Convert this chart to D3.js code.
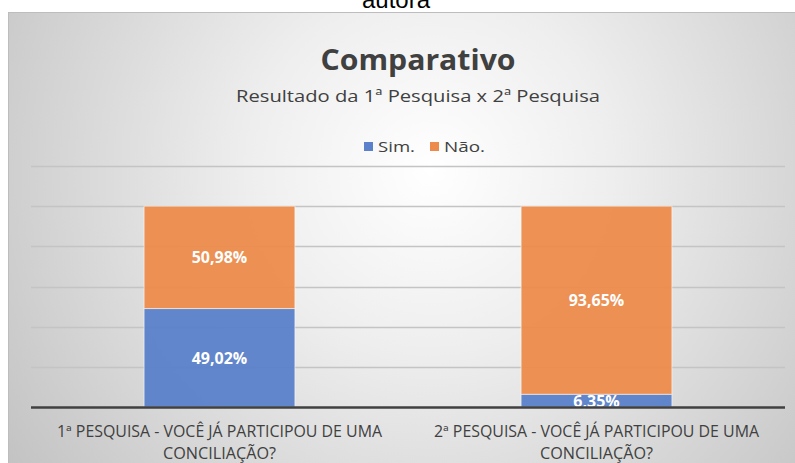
<!DOCTYPE html>
<html><head><meta charset="utf-8">
<script src="https://cdn.jsdelivr.net/npm/d3@7"></script>
<style>body{margin:0;background:#fff;overflow:hidden}svg{display:block}</style>
</head><body>
<svg id="c" width="795" height="463"></svg>
<script>
const categories = ["1ª PESQUISA - VOCÊ JÁ PARTICIPOU DE UMA|CONCILIAÇÃO?", "2ª PESQUISA - VOCÊ JÁ PARTICIPOU DE UMA|CONCILIAÇÃO?"];
const seriesNames = ["Sim.", "Não."];
const simValues = [49.02, 6.35];
const naoValues = [50.98, 93.65];
const yTicks = [0, 20, 40, 60, 80, 100, 120];
const colors = ["#5a81c9", "#ec8b4c"];

const svg = d3.select("#c");
const defs = svg.append("defs");
const rg = defs.append("radialGradient").attr("id","bg").attr("gradientUnits","userSpaceOnUse")
  .attr("cx",430).attr("cy",170).attr("r",520);
rg.append("stop").attr("offset","0").attr("stop-color","#ffffff");
rg.append("stop").attr("offset","0.35").attr("stop-color","#eeeeee");
rg.append("stop").attr("offset","1").attr("stop-color","#c2c2c2");

// caption fragment at top
svg.append("text").attr("x",396).attr("y",8).attr("text-anchor","middle")
  .attr("font-family","Liberation Sans, Arial").attr("font-size",24).attr("fill","#000").text("autora");

svg.append("rect").attr("x",8.5).attr("y",12.5).attr("width",820).attr("height",460)
  .attr("fill","url(#bg)").attr("stroke","#bdbdbd").attr("stroke-width",1);

const font = "'Open Sans', Lato, sans-serif";
svg.append("text").attr("x",418).attr("y",70).attr("text-anchor","middle")
  .attr("font-family",font).attr("font-weight","bold").attr("font-size",29).attr("fill","#404040")
  .attr("textLength",195).attr("lengthAdjust","spacingAndGlyphs").text("Comparativo");
svg.append("text").attr("x",418).attr("y",102).attr("text-anchor","middle")
  .attr("font-family",font).attr("font-size",17).attr("fill","#404040")
  .attr("textLength",364).attr("lengthAdjust","spacingAndGlyphs").text("Resultado da 1ª Pesquisa x 2ª Pesquisa");

// legend
const legend = svg.append("g");
const legX = [364, 430];
const legW = [37, 41];
seriesNames.forEach((n,i)=>{
  legend.append("rect").attr("x",legX[i]).attr("y",142).attr("width",9).attr("height",9).attr("fill",colors[i]);
  legend.append("text").attr("x",legX[i]+14).attr("y",152).attr("font-family",font).attr("font-size",15)
    .attr("fill","#404040").attr("textLength",legW[i]).attr("lengthAdjust","spacingAndGlyphs").text(n);
});

const x0 = 31, x1 = 785, yBot = 407, yTop = 166;
const x = d3.scaleBand().domain(categories).range([x0,x1]).paddingInner(0.6).paddingOuter(0.3);
const y = d3.scaleLinear().domain([0,120]).range([yBot,yTop]);

// gridlines
svg.append("g").selectAll("line").data(yTicks.filter(t=>t>0)).join("line")
  .attr("x1",x0).attr("x2",x1).attr("y1",d=>Math.round(y(d))+0.5).attr("y2",d=>Math.round(y(d))+0.5)
  .attr("stroke","#c4c4c4").attr("stroke-width",1.3);

const stackData = categories.map((c,i)=>({cat:c, "Sim.":simValues[i], "Não.":naoValues[i]}));
const stacked = d3.stack().keys(seriesNames)(stackData);

const g = svg.append("g");
stacked.forEach((s,si)=>{
  g.selectAll(null).data(s).join("rect")
    .attr("x",d=>x(d.data.cat)).attr("width",x.bandwidth())
    .attr("y",d=>y(d[1])).attr("height",d=>y(d[0])-y(d[1]))
    .attr("fill",colors[si]).attr("fill-opacity",0.95)
    .attr("stroke","#ffffff").attr("stroke-opacity",0.55).attr("stroke-width",1);
});

// axis line
svg.append("line").attr("x1",x0).attr("x2",x1).attr("y1",yBot+0.5).attr("y2",yBot+0.5)
  .attr("stroke","#404040").attr("stroke-width",2.5);

// data labels
stacked.forEach((s,si)=>{
  g.selectAll(null).data(s).join("text")
    .attr("x",d=>x(d.data.cat)+x.bandwidth()/2)
    .attr("y",d=>(y(d[0])+y(d[1]))/2 + 6)
    .attr("text-anchor","middle").attr("font-family",font).attr("font-weight","bold")
    .attr("font-size",16).attr("fill","#ffffff")
    .text(d=>d3.format(".2f")(d[1]-d[0]).replace(".",",")+"%");
});

// category labels
categories.forEach(c=>{
  const lines = c.split("|");
  const cx = x(c)+x.bandwidth()/2;
  const lens = [325, 113];
  lines.forEach((l,li)=>{
    svg.append("text").attr("x",cx).attr("y",437+li*22).attr("text-anchor","middle")
      .attr("font-family",font).attr("font-size",15.5).attr("fill","#404040")
      .attr("textLength",lens[li]).attr("lengthAdjust","spacingAndGlyphs").text(l);
  });
});
</script>
</body></html>
